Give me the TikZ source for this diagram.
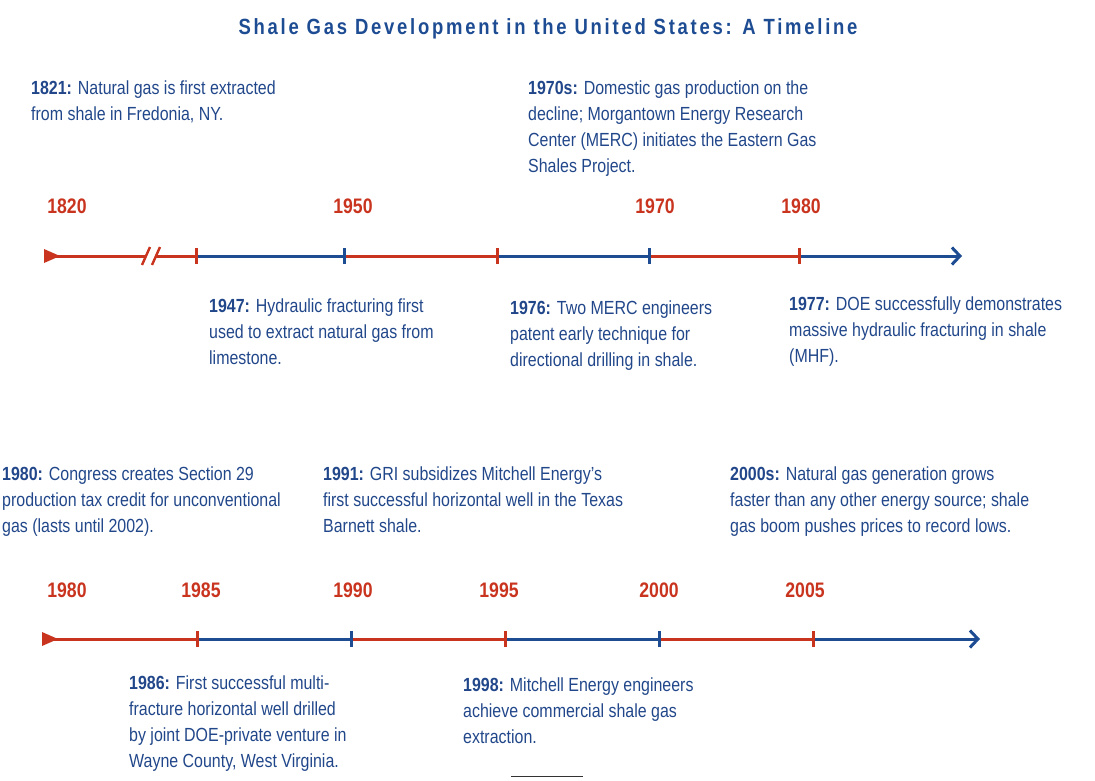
\documentclass[tikz,border=0pt]{standalone}
\usepackage{fontspec}
\setmainfont{Liberation Sans}[FakeStretch=0.84]
\usetikzlibrary{arrows.meta}
\definecolor{tlblue}{HTML}{1D4C93}
\definecolor{tlred}{HTML}{C9341F}
\definecolor{txtblue}{HTML}{21478A}
\tikzset{
  evt/.style={anchor=north west, inner sep=0pt, align=left, text=txtblue, font=\fontsize{19}{26}\selectfont},
  yr/.style={anchor=center, inner sep=0pt, text=tlred, font=\fontsize{21}{22}\selectfont\bfseries},
  seg/.style={line width=3pt},
  tick/.style={line width=3pt},
  barb/.style={-{Straight Barb[length=8pt,width=17pt]}},
}
\begin{document}
\begin{tikzpicture}[x=1pt,y=-1pt]
\useasboundingbox (0,0) rectangle (1095,780);
% title
\node[inner sep=0pt, text=tlblue, font=\fontsize{22}{24}\selectfont\bfseries\addfontfeatures{LetterSpace=12.5}] (title) at (548,29) {Shale Gas Development in the United States: A Timeline};

% ---------- top timeline ----------
\coordinate (t0) at (44,256);
\coordinate (tbA) at (146,256);
\coordinate (tbB) at (156,256);
\coordinate (t1) at (196,256);
\coordinate (t2) at (344,256);
\coordinate (t3) at (497,256);
\coordinate (t4) at (649,256);
\coordinate (t5) at (799,256);
\coordinate (tend) at (962,256);
\fill[tlred] (44,249) -- (60,256) -- (44,263) -- cycle;
\draw[seg,tlred] (t0) -- (tbA);
\draw[seg,tlred] (tbB) -- (t1);
\draw[line width=2.4pt,tlred] (142,265) -- (150,247);
\draw[line width=2.4pt,tlred] (152,265) -- (160,247);
\draw[seg,tlblue] (t1) -- (t2);
\draw[seg,tlred] (t2) -- (t3);
\draw[seg,tlblue] (t3) -- (t4);
\draw[seg,tlred] (t4) -- (t5);
\draw[seg,tlblue,barb] (t5) -- (tend);
\draw[tick,tlred] ([yshift=-8pt]t1) -- ([yshift=8pt]t1);
\draw[tick,tlblue] ([yshift=-8pt]t2) -- ([yshift=8pt]t2);
\draw[tick,tlred] ([yshift=-8pt]t3) -- ([yshift=8pt]t3);
\draw[tick,tlblue] ([yshift=-8pt]t4) -- ([yshift=8pt]t4);
\draw[tick,tlred] ([yshift=-8pt]t5) -- ([yshift=8pt]t5);

\node[yr] (y1820) at (67,206) {1820};
\node[yr] (y1950) at (353,206) {1950};
\node[yr] (y1970) at (655,206) {1970};
\node[yr] (y1980a) at (801,206) {1980};

\node[evt] (e1821) at (31,81) {\textbf{1821:} Natural gas is first extracted\\from shale in Fredonia, NY.};
\node[evt] (e1970s) at (528,81) {\textbf{1970s:} Domestic gas production on the\\decline; Morgantown Energy Research\\Center (MERC) initiates the Eastern Gas\\Shales Project.};
\node[evt] (e1947) at (209,299) {\textbf{1947:} Hydraulic fracturing first\\used to extract natural gas from\\limestone.};
\node[evt] (e1976) at (510,301) {\textbf{1976:} Two MERC engineers\\patent early technique for\\directional drilling in shale.};
\node[evt] (e1977) at (789,297) {\textbf{1977:} DOE successfully demonstrates\\massive hydraulic fracturing in shale\\(MHF).};

% ---------- bottom timeline ----------
\coordinate (b0) at (42,639);
\coordinate (b1) at (197,639);
\coordinate (b2) at (351,639);
\coordinate (b3) at (505,639);
\coordinate (b4) at (659,639);
\coordinate (b5) at (813,639);
\coordinate (bend) at (980,639);
\fill[tlred] (42,632) -- (58,639) -- (42,646) -- cycle;
\draw[seg,tlred] (b0) -- (b1);
\draw[seg,tlblue] (b1) -- (b2);
\draw[seg,tlred] (b2) -- (b3);
\draw[seg,tlblue] (b3) -- (b4);
\draw[seg,tlred] (b4) -- (b5);
\draw[seg,tlblue,barb] (b5) -- (bend);
\draw[tick,tlred] ([yshift=-8pt]b1) -- ([yshift=8pt]b1);
\draw[tick,tlblue] ([yshift=-8pt]b2) -- ([yshift=8pt]b2);
\draw[tick,tlred] ([yshift=-8pt]b3) -- ([yshift=8pt]b3);
\draw[tick,tlblue] ([yshift=-8pt]b4) -- ([yshift=8pt]b4);
\draw[tick,tlred] ([yshift=-8pt]b5) -- ([yshift=8pt]b5);

\node[yr] (y1980b) at (67,590) {1980};
\node[yr] (y1985) at (201,590) {1985};
\node[yr] (y1990) at (353,590) {1990};
\node[yr] (y1995) at (499,590) {1995};
\node[yr] (y2000) at (659,590) {2000};
\node[yr] (y2005) at (805,590) {2005};

\node[evt] (e1980) at (2,467) {\textbf{1980:} Congress creates Section 29\\production tax credit for unconventional\\gas (lasts until 2002).};
\node[evt] (e1991) at (323,467) {\textbf{1991:} GRI subsidizes Mitchell Energy’s\\first successful horizontal well in the Texas\\Barnett shale.};
\node[evt] (e2000s) at (730,467) {\textbf{2000s:} Natural gas generation grows\\faster than any other energy source; shale\\gas boom pushes prices to record lows.};
\node[evt] (e1986) at (129,676) {\textbf{1986:} First successful multi-\\fracture horizontal well drilled\\by joint DOE-private venture in\\Wayne County, West Virginia.};
\node[evt] (e1998) at (463,678) {\textbf{1998:} Mitchell Energy engineers\\achieve commercial shale gas\\extraction.};

\draw[line width=0.8pt, black!80] (511,776.5) -- (583,776.5);
\end{tikzpicture}
\end{document}
